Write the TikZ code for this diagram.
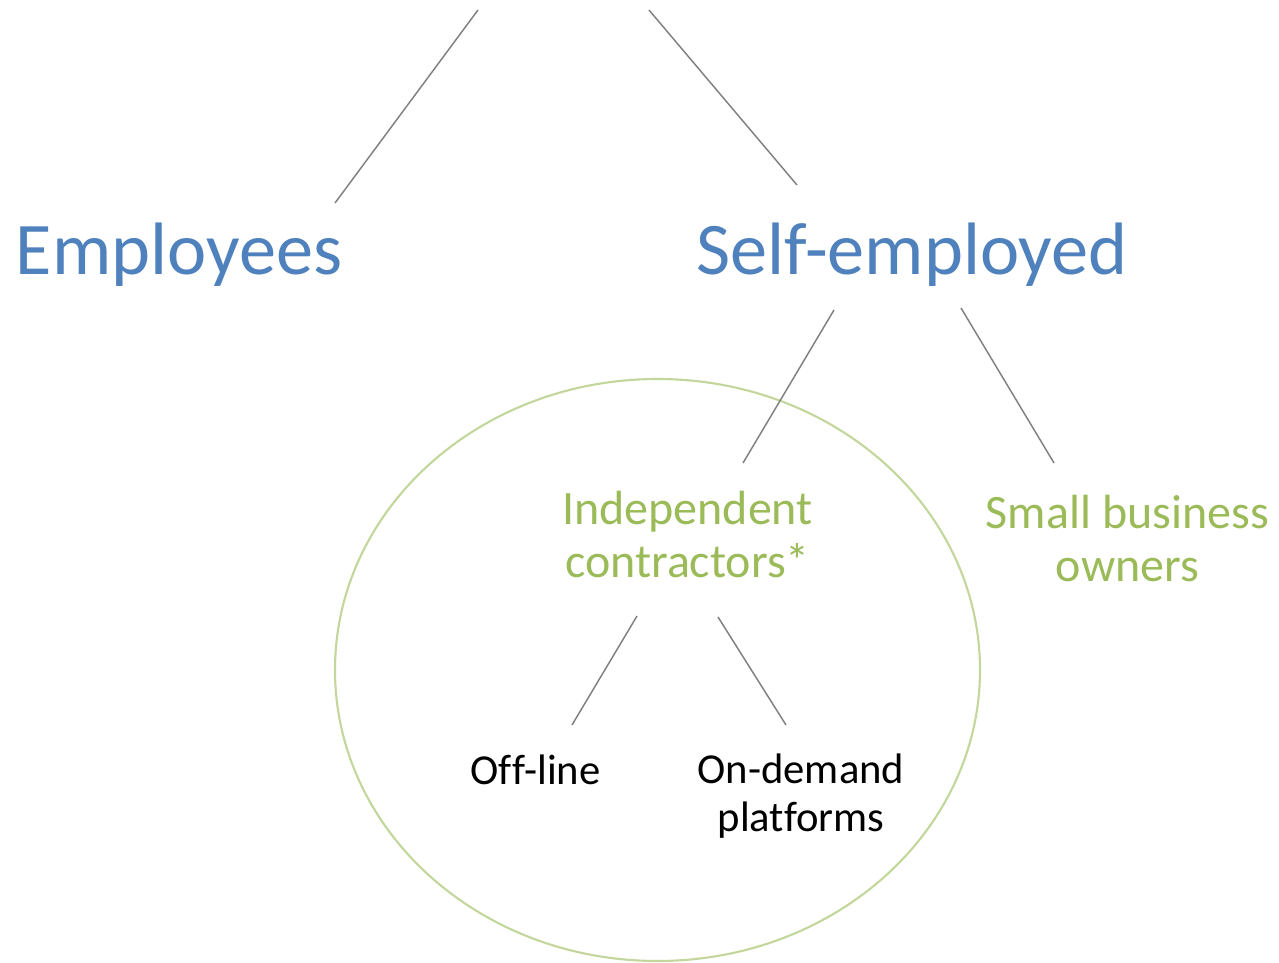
\documentclass[tikz,border=0pt]{standalone}
\usepackage{fontspec}
\setmainfont{Carlito}[Ligatures=NoCommon]
\definecolor{blu}{HTML}{4F81BD}
\definecolor{grn}{HTML}{9BBB59}
\definecolor{ell}{HTML}{C3D69B}
\definecolor{gry}{HTML}{808080}
\tikzset{
  big/.style={text=blu,font=\fontsize{55.7}{67}\selectfont,inner sep=0pt,anchor=base},
  mid/.style={text=grn,font=\fontsize{36}{39.75}\selectfont,inner sep=0pt,align=center,anchor=base},
  sml/.style={text=black,font=\fontsize{32}{36}\selectfont,inner sep=0pt,align=center,anchor=base},
  conn/.style={draw=gry,line width=1.1pt},
  ring/.style={draw=ell,line width=1.6pt}
}
\begin{document}
\begin{tikzpicture}[x=0.75pt,y=-0.75pt]
\useasboundingbox (0,0) rectangle (1279,963);
\draw[ring] (657.5,670) ellipse [x radius=322.5, y radius=291];
\node[big] (emp) at (179,275) {Employees};
\node[big] (se) at (912,275) {Self-employed};
\node[mid] (ic) at (687.5,577) {Independent\\contractors*};
\node[mid] (sb) at (1127.5,581) {Small business\\owners};
\node[sml] (off) at (535.5,784) {Of\kern0.5pt f-line};
\node[sml] (od) at (801,831) {On-demand\\platforms};
\coordinate (root-l) at (478,10);
\coordinate (root-r) at (649,10);
\coordinate (emp-t) at (335,203);
\coordinate (se-t) at (797,185);
\coordinate (se-bl) at (834,310);
\coordinate (se-br) at (961,308);
\coordinate (ic-t) at (743,463);
\coordinate (sb-t) at (1054,463);
\coordinate (ic-bl) at (637,616);
\coordinate (ic-br) at (718,617);
\coordinate (off-t) at (572,725);
\coordinate (od-t) at (786,725);
\draw[conn] (root-l) -- (emp-t);
\draw[conn] (root-r) -- (se-t);
\draw[conn] (se-bl) -- (ic-t);
\draw[conn] (se-br) -- (sb-t);
\draw[conn] (ic-bl) -- (off-t);
\draw[conn] (ic-br) -- (od-t);
\end{tikzpicture}
\end{document}
